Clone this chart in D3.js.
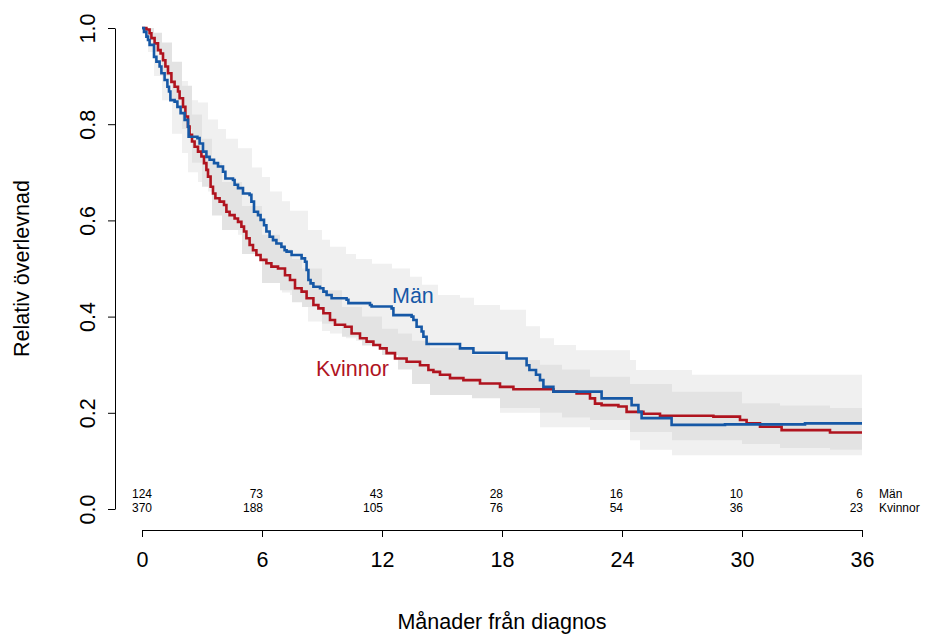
<!DOCTYPE html>
<html>
<head>
<meta charset="utf-8">
<script src="https://cdn.jsdelivr.net/npm/d3@7"></script>
<style>
	body { margin: 0; background: #fff; }
	svg { font-family: "Liberation Sans", Arial, Helvetica, sans-serif; }
	.axis path, .axis line { stroke: #000; stroke-width: 1; }
	.axis text { font-size: 21.5px; fill: #000; }
</style>
</head>
<body>
<div id="graph"></div>
<script>
// survival steps (months, relative survival)
var menT = [0, 0.1, 0.22, 0.3, 0.38, 0.6, 0.72, 0.88, 0.97, 1.13, 1.27, 1.35, 1.42, 1.63, 1.77, 1.93, 2.13, 2.3, 2.33, 2.77, 2.88, 3.05, 3.22, 3.38, 3.6, 3.8, 4.05, 4.17, 4.55, 4.63, 4.8, 5.05, 5.38, 5.47, 5.6, 5.8, 5.93, 6.1, 6.22, 6.38, 6.55, 6.72, 6.97, 7.13, 7.23, 7.48, 7.98, 8.15, 8.23, 8.32, 8.43, 8.57, 8.9, 9.07, 9.23, 9.48, 10.23, 10.32, 11.4, 11.48, 12.48, 12.57, 13.48, 13.57, 13.73, 13.98, 14.07, 14.23, 15.9, 16.57, 18.23, 19.23, 19.37, 19.7, 19.9, 20.07, 20.57, 22.98, 24.48, 24.82, 24.98, 26.48, 29.15, 33.15, 36];
var menS = [1.0, 0.992, 0.982, 0.975, 0.965, 0.94, 0.93, 0.92, 0.906, 0.892, 0.878, 0.868, 0.85, 0.847, 0.836, 0.823, 0.809, 0.795, 0.774, 0.771, 0.76, 0.743, 0.732, 0.726, 0.719, 0.712, 0.701, 0.687, 0.684, 0.674, 0.667, 0.656, 0.653, 0.639, 0.618, 0.611, 0.601, 0.59, 0.577, 0.566, 0.559, 0.552, 0.545, 0.538, 0.535, 0.528, 0.521, 0.514, 0.497, 0.476, 0.469, 0.462, 0.459, 0.452, 0.445, 0.438, 0.435, 0.428, 0.424, 0.421, 0.417, 0.403, 0.4, 0.393, 0.379, 0.369, 0.358, 0.343, 0.334, 0.325, 0.313, 0.299, 0.289, 0.279, 0.268, 0.254, 0.244, 0.23, 0.216, 0.202, 0.189, 0.175, 0.176, 0.178, 0.178];

var womenT = [0, 0.22, 0.38, 0.47, 0.63, 0.8, 0.93, 1.05, 1.17, 1.3, 1.47, 1.63, 1.8, 1.88, 2.05, 2.17, 2.3, 2.38, 2.5, 2.63, 2.8, 2.97, 3.1, 3.22, 3.3, 3.43, 3.55, 3.67, 3.88, 4.1, 4.22, 4.38, 4.63, 4.8, 4.97, 5.1, 5.22, 5.38, 5.55, 5.72, 5.93, 6.22, 6.47, 6.8, 7.15, 7.4, 7.65, 7.98, 8.23, 8.57, 8.82, 9.07, 9.4, 9.65, 10.15, 10.48, 10.9, 11.23, 11.57, 11.9, 12.23, 12.65, 13.23, 13.9, 14.32, 14.57, 14.9, 15.4, 16.07, 16.9, 17.9, 18.57, 20.57, 21.73, 22.4, 22.65, 22.98, 23.82, 24.23, 25.07, 25.9, 28.57, 29.9, 30.23, 30.9, 31.98, 34.4, 36];
var womenS = [1.0, 0.997, 0.989, 0.979, 0.968, 0.954, 0.947, 0.933, 0.92, 0.906, 0.888, 0.878, 0.868, 0.854, 0.836, 0.816, 0.795, 0.778, 0.764, 0.753, 0.743, 0.733, 0.719, 0.705, 0.691, 0.67, 0.656, 0.646, 0.639, 0.632, 0.618, 0.611, 0.604, 0.597, 0.587, 0.577, 0.563, 0.549, 0.538, 0.528, 0.518, 0.511, 0.504, 0.5, 0.486, 0.476, 0.459, 0.452, 0.438, 0.424, 0.417, 0.407, 0.393, 0.383, 0.379, 0.365, 0.355, 0.348, 0.341, 0.334, 0.324, 0.313, 0.306, 0.299, 0.289, 0.285, 0.279, 0.272, 0.268, 0.261, 0.254, 0.249, 0.244, 0.24, 0.23, 0.219, 0.216, 0.213, 0.202, 0.198, 0.194, 0.192, 0.185, 0.178, 0.171, 0.164, 0.159, 0.159];

// confidence bands
var menBandT = [0, 0.3, 0.6, 1.0, 1.5, 2.0, 2.3, 2.8, 3.3, 3.8, 4.2, 4.8, 5.5, 6.0, 6.4, 7.0, 7.4, 8.3, 9.0, 9.4, 10.2, 10.7, 11.5, 12.5, 13.4, 14.0, 14.8, 15.9, 16.6, 17.9, 19.2, 19.9, 20.6, 21.7, 22.4, 24.4, 24.7, 24.9, 26.5, 27.5, 36];
var menHi = [1.0, 0.995, 0.98, 0.96, 0.92, 0.89, 0.85, 0.845, 0.81, 0.79, 0.77, 0.75, 0.71, 0.69, 0.66, 0.64, 0.62, 0.58, 0.56, 0.545, 0.53, 0.52, 0.51, 0.5, 0.483, 0.466, 0.445, 0.439, 0.424, 0.414, 0.38, 0.355, 0.341, 0.33, 0.33, 0.31, 0.289, 0.289, 0.289, 0.279, 0.279];
var menLo = [1.0, 0.95, 0.9, 0.85, 0.78, 0.74, 0.7, 0.68, 0.66, 0.63, 0.6, 0.57, 0.53, 0.5, 0.48, 0.45, 0.445, 0.39, 0.37, 0.365, 0.355, 0.35, 0.34, 0.32, 0.31, 0.27, 0.265, 0.26, 0.25, 0.2, 0.2, 0.17, 0.17, 0.17, 0.164, 0.143, 0.143, 0.123, 0.112, 0.112, 0.112];

var womenBandT = [0, 0.3, 0.6, 1.0, 1.5, 2.0, 2.5, 3.0, 3.5, 4.0, 5.0, 6.0, 6.9, 7.5, 8.0, 9.0, 10.0, 11.0, 12.0, 12.8, 13.5, 14.4, 16.5, 17.9, 19.9, 21.0, 22.4, 24.4, 26.5, 30.0, 31.9, 34.4, 36];
var womenHi = [1.0, 1.0, 0.99, 0.97, 0.93, 0.88, 0.82, 0.77, 0.72, 0.68, 0.63, 0.57, 0.54, 0.52, 0.5, 0.455, 0.42, 0.4, 0.375, 0.365, 0.35, 0.335, 0.32, 0.31, 0.3, 0.29, 0.275, 0.26, 0.244, 0.22, 0.215, 0.21, 0.21];
var womenLo = [1.0, 0.98, 0.95, 0.9, 0.85, 0.79, 0.72, 0.67, 0.61, 0.58, 0.53, 0.47, 0.455, 0.43, 0.42, 0.385, 0.358, 0.34, 0.32, 0.29, 0.26, 0.237, 0.23, 0.21, 0.2, 0.19, 0.185, 0.16, 0.143, 0.135, 0.127, 0.123, 0.123];

// numbers at risk
var riskTimes = [0, 6, 12, 18, 24, 30, 36];
var riskMen = [124, 73, 43, 28, 16, 10, 6];
var riskWomen = [370, 188, 105, 76, 54, 36, 23];

var xTicks = [0, 6, 12, 18, 24, 30, 36],
	yTicks = [0, 0.2, 0.4, 0.6, 0.8, 1.0];

var width = 926,
	height = 635,
	blue = "#1658a6",
	red = "#b0141f";

var svg = d3.select('div#graph')
	.append('svg')
	.attr('width', width)
	.attr('height', height)
	.style('background', '#fff');

var x = d3.scaleLinear().domain([0, 36]).range([142, 862]),
	y = d3.scaleLinear().domain([0, 1]).range([509, 28]);

function band(ts, lo, hi){
	return ts.map(function(t, i){ return {t: t, lo: lo[i], hi: hi[i]}; });
}

function steps(ts, ss){
	return ts.map(function(t, i){ return {t: t, s: ss[i]}; });
}

var area = d3.area()
	.curve(d3.curveStepAfter)
	.x(function(d){ return x(d.t); })
	.y0(function(d){ return y(d.lo); })
	.y1(function(d){ return y(d.hi); });

var line = d3.line()
	.curve(d3.curveStepAfter)
	.x(function(d){ return x(d.t); })
	.y(function(d){ return y(d.s); });

svg.append("path")
	.datum(band(menBandT, menLo, menHi))
	.attr("d", area)
	.attr("fill", "#f0f0f0");

svg.append("path")
	.datum(band(womenBandT, womenLo, womenHi))
	.attr("d", area)
	.attr("fill", "#e3e3e3");

svg.append("path")
	.datum(steps(womenT, womenS))
	.attr("d", line)
	.attr("fill", "none")
	.attr("stroke", red)
	.attr("stroke-width", 2.6);

svg.append("path")
	.datum(steps(menT, menS))
	.attr("d", line)
	.attr("fill", "none")
	.attr("stroke", blue)
	.attr("stroke-width", 2.6);

// curve labels
svg.append("text")
	.attr("x", 392)
	.attr("y", 303)
	.attr("fill", blue)
	.style("font-size", "21.5px")
	.text("Män");

svg.append("text")
	.attr("x", 316)
	.attr("y", 376)
	.attr("fill", red)
	.style("font-size", "21.5px")
	.text("Kvinnor");

// axes
var yAxis = svg.append("g")
	.attr("class", "axis")
	.attr("transform", "translate(115,0)")
	.call(d3.axisLeft(y).tickValues(yTicks).tickSize(7).tickSizeOuter(0).tickFormat(d3.format(".1f")));

yAxis.selectAll("text")
	.attr("transform", "rotate(-90)")
	.attr("x", 0)
	.attr("y", -20)
	.attr("dy", 0)
	.attr("text-anchor", "middle");

var xAxis = svg.append("g")
	.attr("class", "axis")
	.attr("transform", "translate(0,530)")
	.call(d3.axisBottom(x).tickValues(xTicks).tickSize(7).tickSizeOuter(0));

xAxis.selectAll("text")
	.attr("y", 22);

svg.append("text")
	.attr("x", x(18))
	.attr("y", 629)
	.attr("text-anchor", "middle")
	.style("font-size", "21.5px")
	.text("Månader från diagnos");

svg.append("text")
	.attr("transform", "translate(29," + y(0.5) + ") rotate(-90)")
	.attr("text-anchor", "middle")
	.style("font-size", "21.5px")
	.text("Relativ överlevnad");

// risk table
function riskRow(values, label, yPos){
	var g = svg.append("g").attr("class", "risk").style("font-size", "12px");
	g.selectAll("text")
		.data(values).enter()
		.append("text")
		.attr("x", function(d, i){ return x(riskTimes[i]) + (i == 0 ? 0 : 1); })
		.attr("y", yPos)
		.attr("text-anchor", function(d, i){ return i == 0 ? "middle" : "end"; })
		.text(function(d){ return d; });
	g.append("text")
		.attr("x", 879)
		.attr("y", yPos)
		.text(label);
}

riskRow(riskMen, "Män", 498);
riskRow(riskWomen, "Kvinnor", 512);
</script>
</body>
</html>
